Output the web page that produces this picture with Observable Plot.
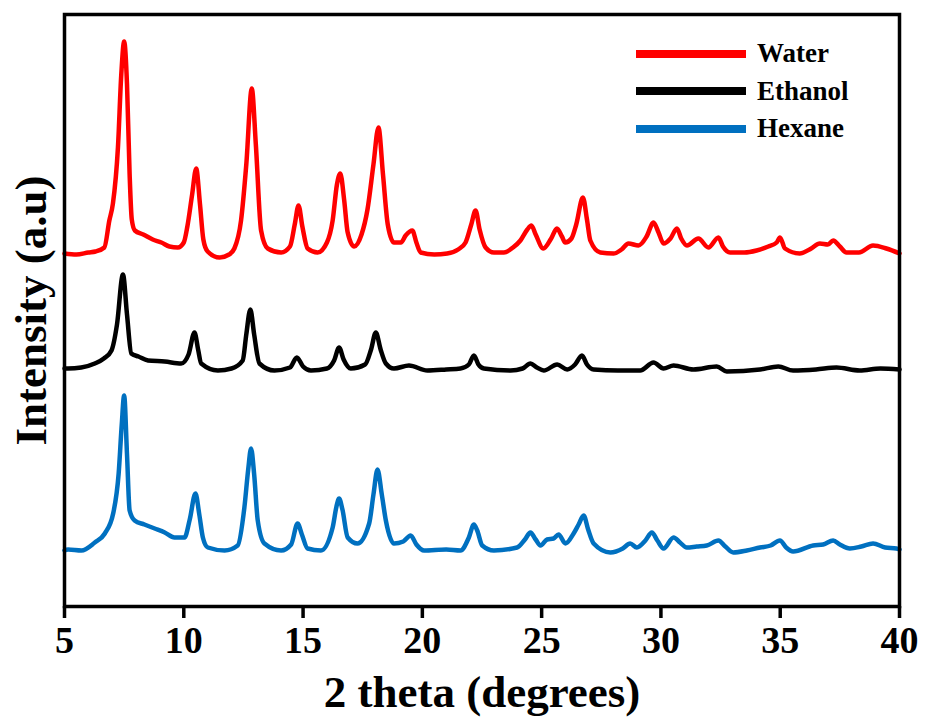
<!DOCTYPE html>
<html>
<head>
<meta charset="utf-8">
<script src="https://cdn.jsdelivr.net/npm/d3@7"></script>
<script src="https://cdn.jsdelivr.net/npm/@observablehq/plot@0.6"></script>
<style>
  html, body { margin: 0; padding: 0; background: #fff; }
  #wrap { position: relative; width: 925px; height: 725px; }
  #legend { position: absolute; left: 636px; top: 35px; font-family: "Liberation Serif", "Times New Roman", serif; font-weight: bold; font-size: 27px; color: #000; }
  .row { display: flex; align-items: center; height: 37.5px; }
  .swatch { width: 110px; height: 8px; margin-right: 11px; }
</style>
</head>
<body>
<div id="wrap"><div id="legend"></div></div>
<script>
// ---- data (2 theta in degrees, intensity in a.u., stacked as drawn) ----
const seriesNames = ["Water", "Ethanol", "Hexane"];
const seriesColors = ["#FF0000", "#000000", "#0070C0"];
const xTicks = [5, 10, 15, 20, 25, 30, 35, 40];

const waterTheta = [5.0,5.5,6.0,6.3,6.67,6.88,7.03,7.24,7.38,7.50,7.62,7.73,7.82,7.95,8.3,8.7,9.06,9.4,9.75,10.0,10.15,10.35,10.52,10.68,10.82,11.0,11.5,11.9,12.12,12.40,12.62,12.85,13.02,13.24,13.52,14.08,14.45,14.65,14.81,14.97,15.19,15.61,16.0,16.24,16.42,16.56,16.72,16.87,17.14,17.45,17.70,17.95,18.16,18.35,18.55,18.81,19.1,19.30,19.58,19.75,19.93,20.5,21.04,21.5,21.81,22.05,22.23,22.40,22.65,23.0,23.42,23.8,24.11,24.40,24.57,24.75,25.07,25.4,25.64,25.85,25.99,26.25,26.45,26.73,26.90,27.04,27.46,28.02,28.35,28.64,29.06,29.40,29.69,29.90,30.11,30.4,30.67,30.85,31.09,31.57,31.99,32.41,32.6,32.90,33.5,34.01,34.5,34.85,34.99,35.2,35.82,36.3,36.66,37.0,37.22,37.5,37.78,38.3,38.89,39.45,40.0];
const waterInt = [351,350,352,353,357,384,401,457,530,563,520,430,385,374,370,365,362,358,357,362,378,410,436,400,365,353,347,350,356,384,440,516,460,374,356,352,358,380,399,378,356,352,362,384,420,431,405,372,358,370,395,440,477,430,380,362,362,369,374,362,352,350,351,355,362,380,394,375,357,352,352,357,364,375,379,370,356,366,376,368,362,366,380,407,385,364,352,351,355,361,359,368,382,372,361,366,376,366,359,366,357,367,358,352,352,354,358,362,367,356,351,356,361,360,364,358,352,352,359,356,351];

const ethanolTheta = [5.0,5.15,5.7,6.27,6.65,6.97,7.2,7.45,7.62,7.80,8.1,8.50,9.2,9.89,10.2,10.45,10.6,10.73,11.43,12.0,12.47,12.62,12.79,12.95,13.17,13.80,14.45,14.74,15.0,15.33,16.0,16.3,16.51,16.7,17.0,17.6,17.85,18.05,18.25,18.47,18.81,19.44,20.21,21.0,21.60,21.95,22.16,22.35,22.58,23.70,24.2,24.53,24.8,25.09,25.65,26.07,26.4,26.69,26.9,27.18,28.2,29.13,29.69,30.11,30.53,31.36,32.34,32.76,34.15,34.92,35.54,36.5,37.36,38.33,39.2,40.0];
const ethanolInt = [236,236,237,241,246,254,280,330,290,251,248,244,243,241,250,272,255,241,234,236,244,270,295,270,241,234,237,247,238,234,236,244,257,245,236,240,255,272,255,241,236,239,234,235,236,240,249,240,236,234,236,241,237,234,240,235,240,249,240,235,234,234,242,236,239,235,238,233,235,238,234,235,237,234,236,235];

const hexaneTheta = [5.0,5.15,5.71,6.27,6.69,7.04,7.27,7.40,7.50,7.62,7.73,7.94,8.35,8.78,9.2,9.61,10.03,10.25,10.49,10.65,10.80,11.01,11.71,12.26,12.54,12.70,12.82,12.95,13.10,13.38,14.08,14.5,14.77,14.95,15.19,15.75,16.24,16.40,16.51,16.65,16.87,17.28,17.77,17.95,18.12,18.30,18.47,18.81,19.2,19.51,19.75,20.07,21.0,21.60,21.95,22.16,22.30,22.51,23.0,23.97,24.3,24.53,24.75,24.95,25.23,25.50,25.71,26.0,26.34,26.55,26.76,26.95,27.18,27.88,28.4,28.71,28.99,29.35,29.62,29.85,30.11,30.53,30.8,31.08,31.5,31.92,32.41,32.7,33.03,33.6,34.15,34.6,34.99,35.25,35.54,36.38,36.8,37.22,37.5,37.92,38.4,38.89,39.4,39.87,40.0];
const hexaneInt = [54,55,54,62,71,91,131,180,209,150,94,84,80,76,72,67,67,85,111,90,67,57,54,59,97,135,156,130,84,61,54,60,81,70,56,54,77,98,106,95,67,61,81,110,135,110,84,61,63,69,60,54,55,54,67,80,74,59,54,57,65,72,65,59,65,66,70,61,71,80,89,75,61,52,56,61,57,64,72,64,56,67,62,57,58,59,64,58,52,54,57,59,64,57,53,59,60,64,60,56,58,61,57,56,55];

// ---- build table ----
const thetas = [waterTheta, ethanolTheta, hexaneTheta];
const ints = [waterInt, ethanolInt, hexaneInt];
const rows = [];
seriesNames.forEach((name, s) => {
  thetas[s].forEach((t, i) => rows.push({series: name, theta: t, intensity: ints[s][i]}));
});

const font = "'Liberation Serif', 'Times New Roman', serif";
const lineOpts = {x: "theta", y: "intensity", stroke: "series", strokeWidth: 4.5, curve: "monotone-x", strokeLinejoin: "round", strokeLinecap: "round"};

const chart = Plot.plot({
  width: 925,
  height: 725,
  marginLeft: 64,
  marginRight: 26,
  marginTop: 14,
  marginBottom: 119,
  style: {fontFamily: font, background: "white", color: "black", overflow: "visible"},
  x: {domain: [5, 40]},
  y: {domain: [-2, 590], axis: null},
  color: {domain: seriesNames, range: seriesColors},
  marks: [
    Plot.line(rows.filter(d => d.series === "Hexane"), lineOpts),
    Plot.line(rows.filter(d => d.series === "Ethanol"), lineOpts),
    Plot.line(rows.filter(d => d.series === "Water"), lineOpts),
    Plot.frame({stroke: "black", strokeWidth: 3.5}),
    Plot.axisX(xTicks, {tickSize: 12, tickPadding: 8, fontSize: 38, fontWeight: "bold", fontFamily: font, strokeWidth: 3.5, label: null, fill: "black"}),
    Plot.text(["2 theta (degrees)"], {frameAnchor: "bottom", dy: 86, fontSize: 45, fontWeight: "bold", fontFamily: font, fill: "black", lineAnchor: "middle", textAnchor: "middle"}),
    Plot.text(["Intensity (a.u)"], {frameAnchor: "left", dx: -33, rotate: -90, fontSize: 45, fontWeight: "bold", fontFamily: font, fill: "black", lineAnchor: "middle", textAnchor: "middle"})
  ]
});

const wrap = document.getElementById("wrap");
wrap.insertBefore(chart, wrap.firstChild);

// legend overlay
const legend = document.getElementById("legend");
seriesNames.forEach((name, i) => {
  const row = document.createElement("div");
  row.className = "row";
  const sw = document.createElement("span");
  sw.className = "swatch";
  sw.style.background = seriesColors[i];
  const label = document.createElement("span");
  label.textContent = name;
  row.appendChild(sw);
  row.appendChild(label);
  legend.appendChild(row);
});
</script>
</body>
</html>
